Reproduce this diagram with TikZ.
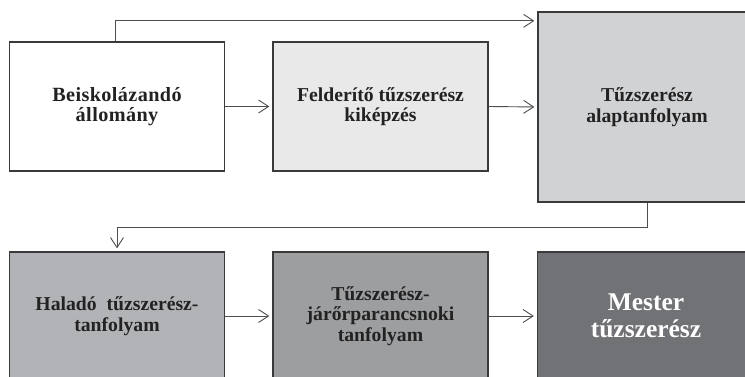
\documentclass[tikz,border=0pt]{standalone}
\usepackage{fontspec}
\setmainfont{Liberation Serif}
\newfontfamily\widefont[LetterSpace=2]{Liberation Serif}
\usetikzlibrary{arrows.meta}
\definecolor{cA}{HTML}{FFFFFF}
\definecolor{cB}{HTML}{E9E9E9}
\definecolor{cC}{HTML}{D1D2D4}
\definecolor{cD}{HTML}{B2B3B6}
\definecolor{cE}{HTML}{9D9EA0}
\definecolor{cF}{HTML}{717275}
\definecolor{edge}{HTML}{3A3A3A}
\definecolor{txt}{HTML}{222222}
\tikzset{
  box/.style={draw=edge, line width=1.3pt, align=center, inner sep=0pt,
    text=txt, font=\bfseries\fontsize{19.7}{20.5}\selectfont},
  arr/.style={draw=edge!90, line width=0.9pt, shorten >=3pt,
    -{Straight Barb[length=10pt,width=13pt,line width=0.9pt]}}
}
\begin{document}
\begin{tikzpicture}[x=1pt,y=-1pt]
\useasboundingbox (0,0) rectangle (745,377);
\clip (0,0) rectangle (745,377);
\fill[white] (0,0) rectangle (745,377);
\node[box, fill=cA, minimum width=215pt, minimum height=129pt,
  font=\widefont\bfseries\fontsize{20.2}{20.5}\selectfont] (b1) at (117,106.5) {Beiskolázandó\\állomány};
\node[box, fill=cB, minimum width=215pt, minimum height=129pt] (b2) at (380.5,106.5) {Felderítő tűzszerész\\kiképzés};
\node[box, fill=cC, minimum width=218pt, minimum height=190pt] (b3) at (647,107) {Tűzszerész\\alaptanfolyam};
\node[box, fill=cD, minimum width=215pt, minimum height=128pt] (b4) at (117,316) {Haladó\hspace{5pt} tűzszerész-\\tanfolyam};
\node[box, fill=cE, minimum width=215pt, minimum height=128pt] (b5) at (380.5,316) {Tűzszerész-\\járőrparancsnoki\\tanfolyam};
\node[box, fill=cF, minimum width=217pt, minimum height=128pt, text=white,
  font=\bfseries\fontsize{25.5}{27}\selectfont] (b6) at (646,316) {Mester\\tűzszerész};
\draw[arr] ([xshift=-2pt]b1.north) |- ([yshift=-9.5pt]b3.north west);
\draw[arr] (b1.east) -- (b2.west);
\draw[arr] (b2.east) -- (b3.west);
\draw[arr] (b3.south) -- ++(0,25) -| (b4.north);
\draw[arr] (b4.east) -- (b5.west);
\draw[arr] (b5.east) -- (b6.west);
\end{tikzpicture}
\end{document}
